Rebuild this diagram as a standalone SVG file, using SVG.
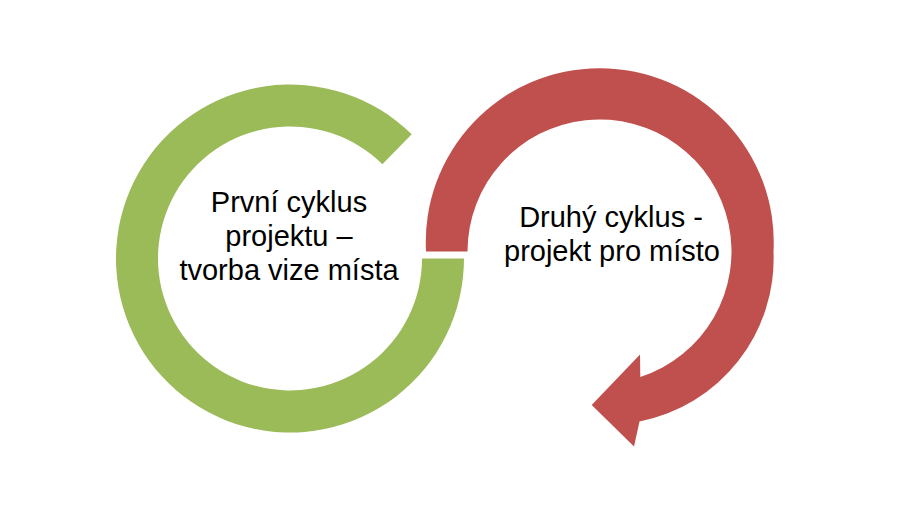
<svg xmlns="http://www.w3.org/2000/svg" width="901" height="509" viewBox="0 0 901 509">
<style>
.lbl{font-family:"Liberation Sans",Arial,sans-serif;font-size:29px;fill:#000;text-anchor:middle}
</style>
<rect width="901" height="509" fill="#fff"/>
<g id="cycle1">
<path d="M464,258.5 A174,174 0 1 1 411.7,134.2 L382.4,164.2 A132,132 0 1 0 422,258.5 Z" fill="#9BBB59"/>
<text class="lbl" x="289" y="211.5">První cyklus</text>
<text class="lbl" x="289" y="246">projektu –</text>
<text class="lbl" x="289" y="280">tvorba vize místa</text>
</g>
<g id="cycle2">
<path d="M426,251.5 A174,174 0 1 1 773.5,251.5 A166,166 0 0 1 639.5,421.5 L634,446.5 L591.7,405 L640,354.5 L640.3,377 A132,132 0 1 0 467.5,251.5 Z" fill="#C0504D"/>
<text class="lbl" x="611" y="227">Druhý cyklus -</text>
<text class="lbl" x="612" y="261">projekt pro místo</text>
</g>
<g id="connectors"></g>
</svg>
